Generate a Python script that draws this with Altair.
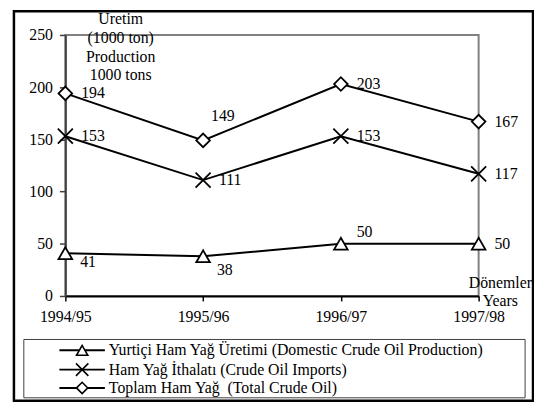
import altair as alt
import pandas as pd

# ---- data ----
periods = ["1994/95", "1995/96", "1996/97", "1997/98"]
series_names = [
    "Yurtiçi Ham Yağ Üretimi (Domestic Crude Oil Production)",
    "Ham Yağ İthalatı (Crude Oil Imports)",
    "Toplam Ham Yağ\u00a0 (Total Crude Oil)",
]
domestic = [41, 38, 50, 50]
imports = [153, 111, 153, 117]
total = [194, 149, 203, 167]
y_ticks = [0, 50, 100, 150, 200, 250]
y_title_lines = ["Üretim", "(1000 ton)", "Production", "1000 tons"]
x_title_lines = ["Dönemler", "Years"]

rows = []
for si, (name, vals) in enumerate(zip(series_names, [domestic, imports, total])):
    for p, v in zip(periods, vals):
        rows.append({"series": name, "period": p, "value": v, "key": f"{si}|{p}"})
df = pd.DataFrame(rows)

# ---- style ----
FONT = "Liberation Serif"
FS = 16
shapes = ["triangle-up", "M-1.1,-1.1L1.1,1.1M-1.1,1.1L1.1,-1.1", "diamond"]
label_overrides = {
    "2|1995/96": (20, -25, "center"),
    "0|1994/95": (15, 9, "left"),
    "0|1995/96": (14, 14, "left"),
    "0|1996/97": (16, -12, "left"),
}

x_enc = alt.X(
    "period:N", sort=periods,
    scale=alt.Scale(type="point", padding=0),
    axis=alt.Axis(title=None, labelAngle=0, labelFont=FONT, labelFontSize=FS,
                  labelColor="black", labelPadding=8, tickSize=5, tickColor="black",
                  tickWidth=1.5, domainColor="black", domainWidth=2),
)
y_enc = alt.Y(
    "value:Q", scale=alt.Scale(domain=[0, 250], nice=False),
    axis=alt.Axis(title=None, values=y_ticks, grid=False, labelFont=FONT,
                  labelFontSize=FS, labelColor="black", labelPadding=7, tickSize=6,
                  tickColor="#404040", tickWidth=1.5, domainColor="#404040",
                  domainWidth=2),
)

base = alt.Chart(df)
one = alt.Data(values=[{}])

border = alt.Chart(one).mark_rect(fillOpacity=0, stroke="black", strokeWidth=2.5).encode(
    x=alt.value(-52), x2=alt.value(473), y=alt.value(-24), y2=alt.value(370))
legend_box = alt.Chart(one).mark_rect(fillOpacity=0, stroke="#404040", strokeWidth=1).encode(
    x=alt.value(-42), x2=alt.value(465), y=alt.value(308), y2=alt.value(367))

lines = base.mark_line(color="black", strokeWidth=2).encode(x=x_enc, y=y_enc, detail="series:N")
points = base.mark_point(filled=True, fill="white", stroke="black", strokeWidth=1.8,
                         size=190, opacity=1).encode(
    x=x_enc, y=y_enc,
    shape=alt.Shape("series:N", scale=alt.Scale(domain=series_names, range=shapes), legend=None),
)

keys_js = "[" + ",".join(f"'{k}'" for k in label_overrides) + "]"
labels = [
    base.mark_text(align="left", baseline="middle", dx=16, font=FONT, fontSize=FS, color="black")
    .encode(x=x_enc, y=y_enc, text="value:Q")
    .transform_filter(f"indexof({keys_js}, datum.key) < 0")
]
for k, (dx, dy, al) in label_overrides.items():
    labels.append(
        base.mark_text(align=al, baseline="middle", dx=dx, dy=dy, font=FONT, fontSize=FS, color="black")
        .encode(x=x_enc, y=y_enc, text="value:Q")
        .transform_filter(f"datum.key == '{k}'")
    )

y_title = alt.Chart(one).mark_text(text=y_title_lines, align="center", baseline="alphabetic",
                                   lineHeight=19, font=FONT, fontSize=FS, color="black").encode(
    x=alt.value(56), y=alt.value(-11))
x_title = alt.Chart(one).mark_text(text=x_title_lines, align="center", baseline="alphabetic",
                                   lineHeight=18, font=FONT, fontSize=FS, color="black").encode(
    x=alt.value(440), y=alt.value(256))

legend_layers = []
legend_y = [319, 338.5, 357]
for i, name in enumerate(series_names):
    d = pd.DataFrame({"name": [name]})
    ly = legend_y[i]
    legend_layers.append(alt.Chart(d).mark_rule(color="black", strokeWidth=2).encode(
        x=alt.value(-6), x2=alt.value(40), y=alt.value(ly)))
    legend_layers.append(alt.Chart(d).mark_point(shape=shapes[i], size=130, filled=True, fill="white",
                                                 stroke="black", strokeWidth=1.6, opacity=1).encode(
        x=alt.value(17), y=alt.value(ly)))
    legend_layers.append(alt.Chart(d).mark_text(align="left", baseline="middle", font=FONT,
                                                fontSize=FS, color="black").encode(
        x=alt.value(44), y=alt.value(ly), text="name:N"))

chart = alt.layer(
    border, legend_box, lines, points, *labels, y_title, x_title, *legend_layers
).properties(
    width=418, height=264,
    autosize=alt.AutoSizeParams(type="none"),
    padding={"left": 58, "top": 25, "right": 56, "bottom": 107},
    background="white",
).configure_view(stroke="#808080", strokeWidth=2)

chart.save("out.html", embed_options={"renderer": "svg", "actions": False})
